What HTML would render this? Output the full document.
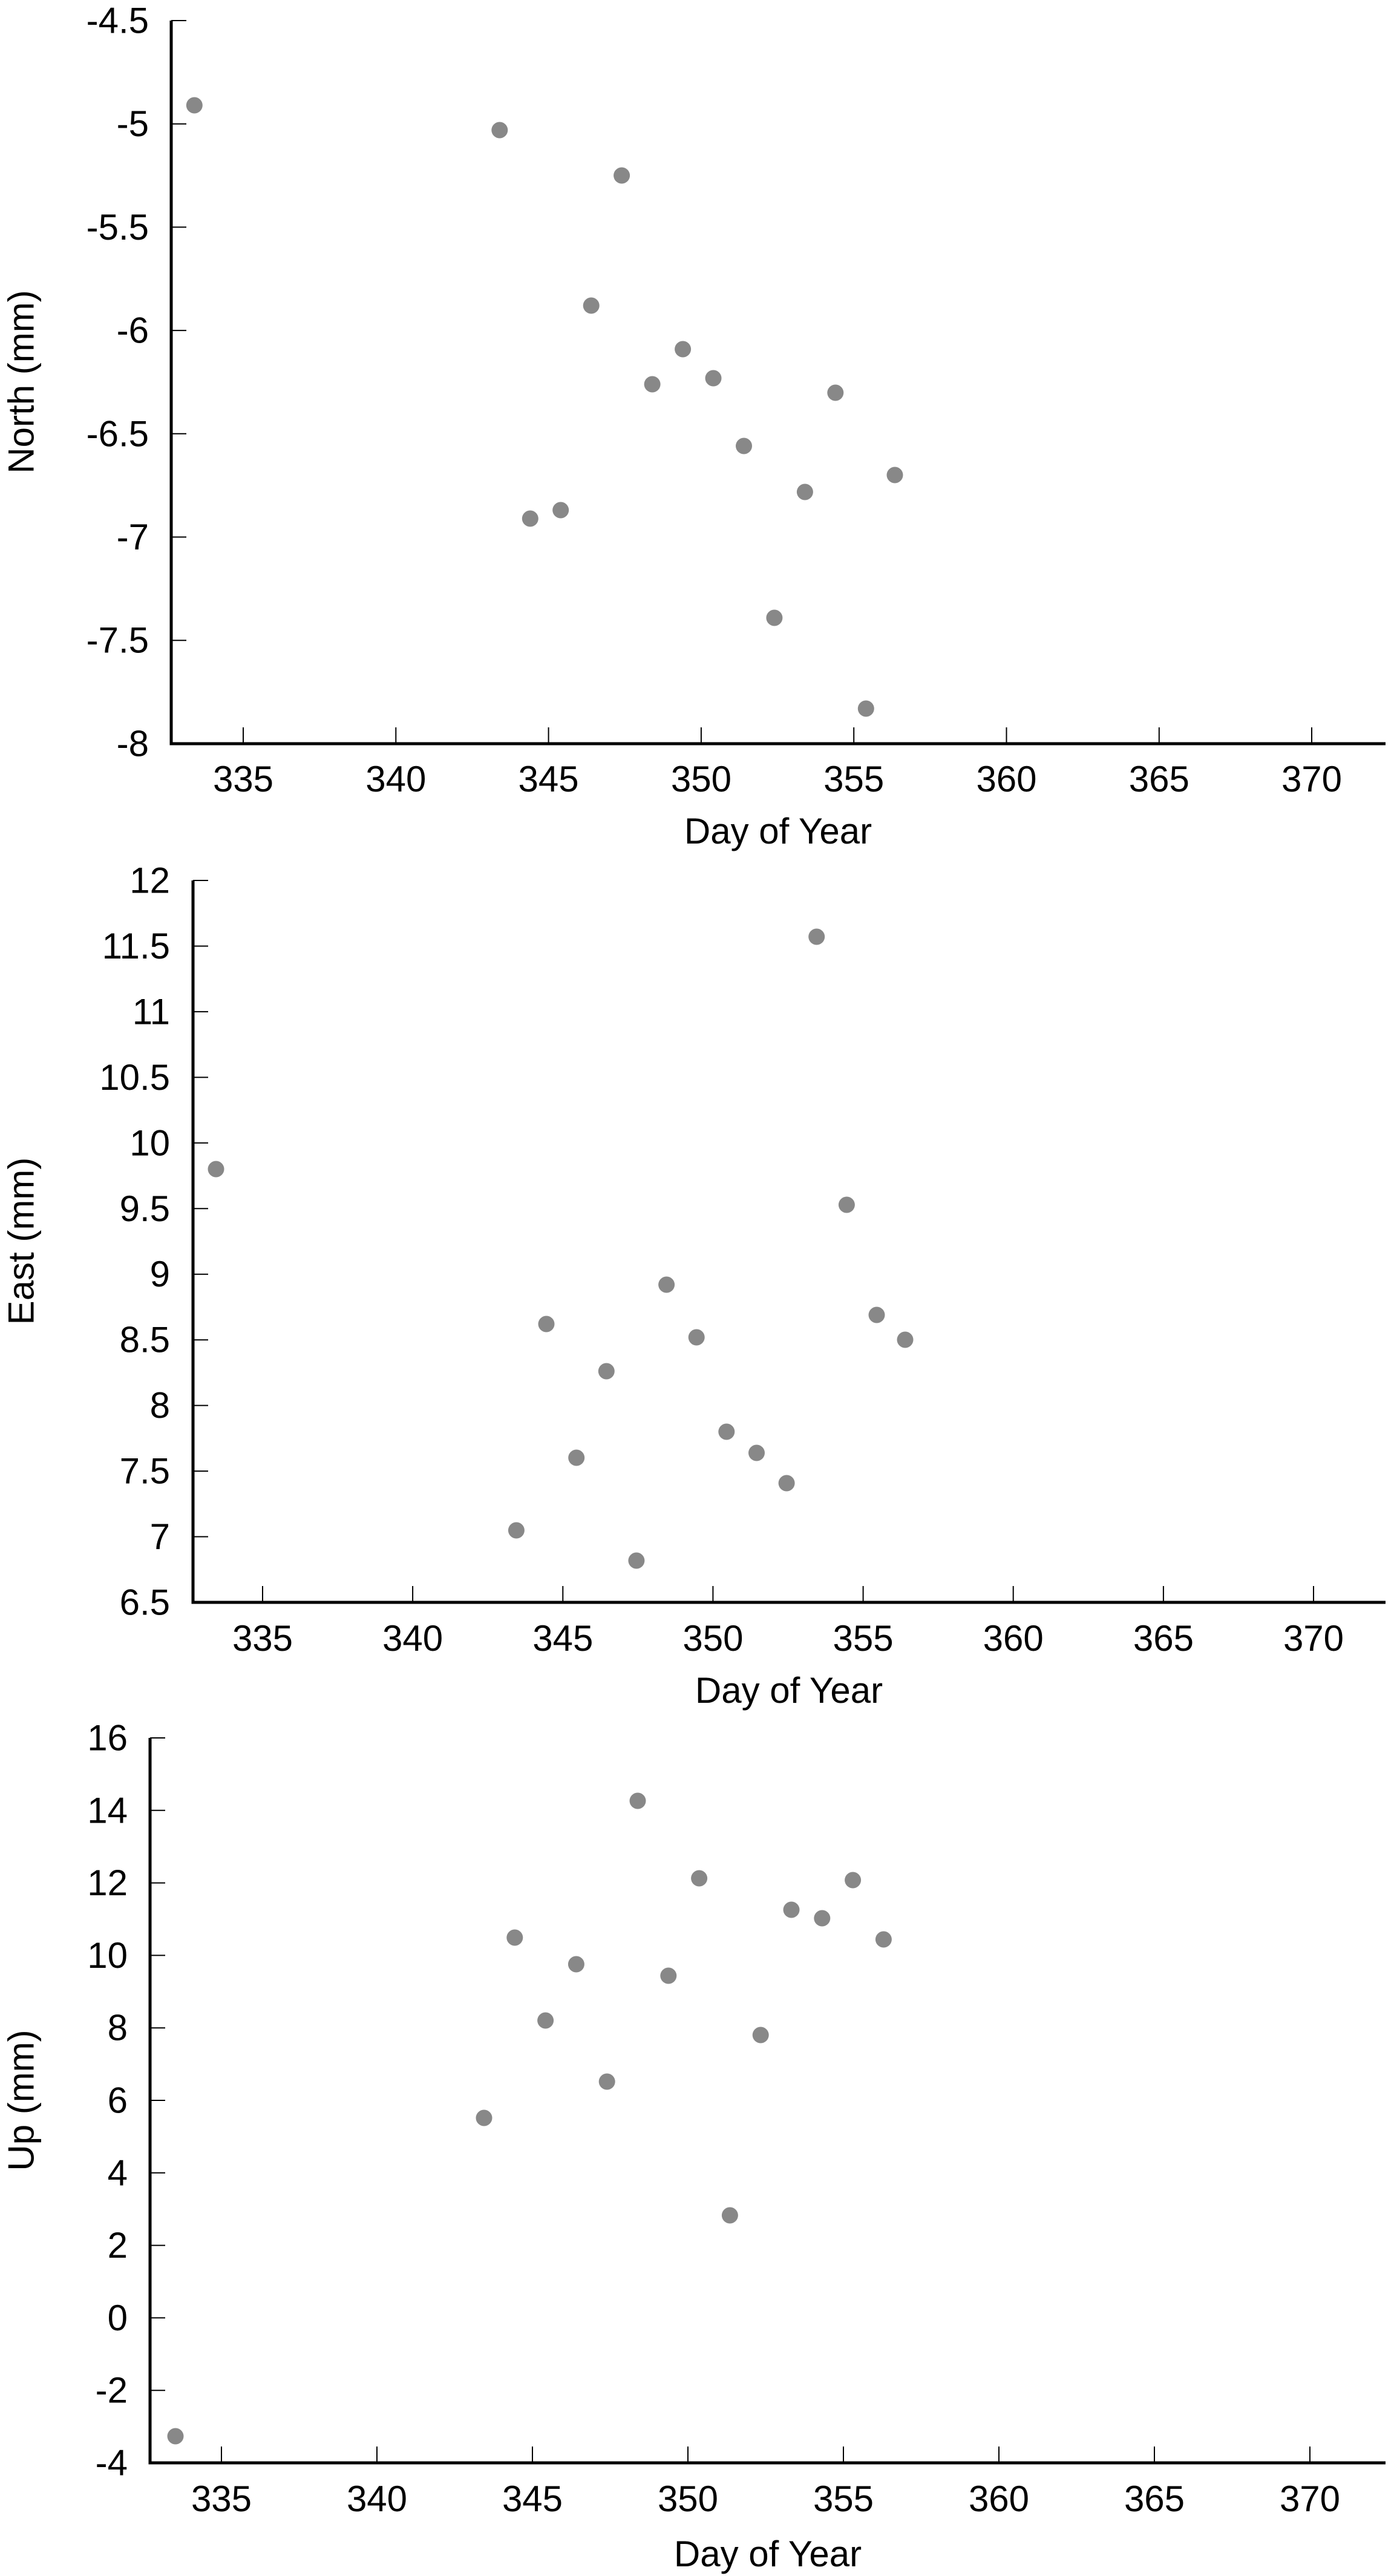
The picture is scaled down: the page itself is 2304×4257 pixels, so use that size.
<!DOCTYPE html>
<html><head><meta charset="utf-8"><style>
html,body{margin:0;padding:0;background:#fff;}
svg{display:block;}
text{font-family:"Liberation Sans",Arial,sans-serif;font-size:60px;fill:#000;}
.yt{text-anchor:end;dominant-baseline:central;}
.xt{text-anchor:middle;}
.ax{stroke:#000;stroke-width:5;fill:none;}
.tk{stroke:#000;stroke-width:2;}
circle{fill:#888;}
</style></head><body>
<svg width="2304" height="4257" viewBox="0 0 2304 4257" xmlns="http://www.w3.org/2000/svg">
<!-- Panel 1 -->
<path class="ax" d="M283,34 L283,1229 L2290,1229"/>
<g class="tk">
<line x1="283" y1="34" x2="308" y2="34"/><line x1="283" y1="204.7" x2="308" y2="204.7"/><line x1="283" y1="375.4" x2="308" y2="375.4"/><line x1="283" y1="546.1" x2="308" y2="546.1"/><line x1="283" y1="716.8" x2="308" y2="716.8"/><line x1="283" y1="887.5" x2="308" y2="887.5"/><line x1="283" y1="1058.2" x2="308" y2="1058.2"/>
<line x1="402" y1="1229" x2="402" y2="1202"/><line x1="654.3" y1="1229" x2="654.3" y2="1202"/><line x1="906.6" y1="1229" x2="906.6" y2="1202"/><line x1="1158.9" y1="1229" x2="1158.9" y2="1202"/><line x1="1411.2" y1="1229" x2="1411.2" y2="1202"/><line x1="1663.5" y1="1229" x2="1663.5" y2="1202"/><line x1="1915.8" y1="1229" x2="1915.8" y2="1202"/><line x1="2168" y1="1229" x2="2168" y2="1202"/>
</g>
<text class="yt" x="246" y="34">-4.5</text><text class="yt" x="246" y="204.7">-5</text><text class="yt" x="246" y="375.4">-5.5</text><text class="yt" x="246" y="546.1">-6</text><text class="yt" x="246" y="716.8">-6.5</text><text class="yt" x="246" y="887.5">-7</text><text class="yt" x="246" y="1058.2">-7.5</text><text class="yt" x="246" y="1229">-8</text>
<text class="xt" x="402" y="1308">335</text><text class="xt" x="654.3" y="1308">340</text><text class="xt" x="906.6" y="1308">345</text><text class="xt" x="1158.9" y="1308">350</text><text class="xt" x="1411.2" y="1308">355</text><text class="xt" x="1663.5" y="1308">360</text><text class="xt" x="1915.8" y="1308">365</text><text class="xt" x="2168" y="1308">370</text>
<text class="xt" x="1286" y="1394">Day of Year</text>
<text class="xt" transform="translate(35,631) rotate(-90)" dominant-baseline="central">North (mm)</text>
<circle cx="321.3" cy="174" r="13.5"/><circle cx="825.8" cy="215" r="13.5"/><circle cx="876.3" cy="857" r="13.5"/><circle cx="926.7" cy="843" r="13.5"/><circle cx="977.2" cy="505" r="13.5"/><circle cx="1027.6" cy="290" r="13.5"/><circle cx="1078.1" cy="635" r="13.5"/><circle cx="1128.6" cy="577" r="13.5"/><circle cx="1179" cy="625" r="13.5"/><circle cx="1229.5" cy="737" r="13.5"/><circle cx="1279.9" cy="1021" r="13.5"/><circle cx="1330.4" cy="813" r="13.5"/><circle cx="1380.8" cy="649" r="13.5"/><circle cx="1431.3" cy="1171" r="13.5"/><circle cx="1479" cy="785" r="13.5"/>

<!-- Panel 2 -->
<path class="ax" d="M319,1455 L319,2648 L2290,2648"/>
<g class="tk">
<line x1="319" y1="1455" x2="344" y2="1455"/><line x1="319" y1="1563.5" x2="344" y2="1563.5"/><line x1="319" y1="1671.9" x2="344" y2="1671.9"/><line x1="319" y1="1780.4" x2="344" y2="1780.4"/><line x1="319" y1="1888.8" x2="344" y2="1888.8"/><line x1="319" y1="1997.3" x2="344" y2="1997.3"/><line x1="319" y1="2105.7" x2="344" y2="2105.7"/><line x1="319" y1="2214.2" x2="344" y2="2214.2"/><line x1="319" y1="2322.6" x2="344" y2="2322.6"/><line x1="319" y1="2431.1" x2="344" y2="2431.1"/><line x1="319" y1="2539.5" x2="344" y2="2539.5"/>
<line x1="434" y1="2648" x2="434" y2="2621"/><line x1="682.1" y1="2648" x2="682.1" y2="2621"/><line x1="930.3" y1="2648" x2="930.3" y2="2621"/><line x1="1178.4" y1="2648" x2="1178.4" y2="2621"/><line x1="1426.6" y1="2648" x2="1426.6" y2="2621"/><line x1="1674.7" y1="2648" x2="1674.7" y2="2621"/><line x1="1922.9" y1="2648" x2="1922.9" y2="2621"/><line x1="2171" y1="2648" x2="2171" y2="2621"/>
</g>
<text class="yt" x="281" y="1455">12</text><text class="yt" x="281" y="1563.5">11.5</text><text class="yt" x="281" y="1671.9">11</text><text class="yt" x="281" y="1780.4">10.5</text><text class="yt" x="281" y="1888.8">10</text><text class="yt" x="281" y="1997.3">9.5</text><text class="yt" x="281" y="2105.7">9</text><text class="yt" x="281" y="2214.2">8.5</text><text class="yt" x="281" y="2322.6">8</text><text class="yt" x="281" y="2431.1">7.5</text><text class="yt" x="281" y="2539.5">7</text><text class="yt" x="281" y="2648">6.5</text>
<text class="xt" x="434" y="2728">335</text><text class="xt" x="682.1" y="2728">340</text><text class="xt" x="930.3" y="2728">345</text><text class="xt" x="1178.4" y="2728">350</text><text class="xt" x="1426.6" y="2728">355</text><text class="xt" x="1674.7" y="2728">360</text><text class="xt" x="1922.9" y="2728">365</text><text class="xt" x="2171" y="2728">370</text>
<text class="xt" x="1304" y="2814">Day of Year</text>
<text class="xt" transform="translate(35,2051) rotate(-90)" dominant-baseline="central">East (mm)</text>
<circle cx="357" cy="1932" r="13.5"/><circle cx="853.4" cy="2529" r="13.5"/><circle cx="903" cy="2188" r="13.5"/><circle cx="952.7" cy="2409" r="13.5"/><circle cx="1002.3" cy="2266" r="13.5"/><circle cx="1051.9" cy="2579" r="13.5"/><circle cx="1101.6" cy="2123" r="13.5"/><circle cx="1151.2" cy="2210" r="13.5"/><circle cx="1200.8" cy="2366" r="13.5"/><circle cx="1250.5" cy="2401" r="13.5"/><circle cx="1300.1" cy="2451" r="13.5"/><circle cx="1349.7" cy="1548" r="13.5"/><circle cx="1399.4" cy="1991" r="13.5"/><circle cx="1449" cy="2173" r="13.5"/><circle cx="1496" cy="2214" r="13.5"/>

<!-- Panel 3 -->
<path class="ax" d="M248,2872 L248,4070 L2290,4070"/>
<g class="tk">
<line x1="248" y1="2872" x2="273" y2="2872"/><line x1="248" y1="2991.8" x2="273" y2="2991.8"/><line x1="248" y1="3111.6" x2="273" y2="3111.6"/><line x1="248" y1="3231.4" x2="273" y2="3231.4"/><line x1="248" y1="3351.2" x2="273" y2="3351.2"/><line x1="248" y1="3471" x2="273" y2="3471"/><line x1="248" y1="3590.8" x2="273" y2="3590.8"/><line x1="248" y1="3710.6" x2="273" y2="3710.6"/><line x1="248" y1="3830.4" x2="273" y2="3830.4"/><line x1="248" y1="3950.2" x2="273" y2="3950.2"/>
<line x1="366" y1="4070" x2="366" y2="4043"/><line x1="623" y1="4070" x2="623" y2="4043"/><line x1="880" y1="4070" x2="880" y2="4043"/><line x1="1137" y1="4070" x2="1137" y2="4043"/><line x1="1394" y1="4070" x2="1394" y2="4043"/><line x1="1651" y1="4070" x2="1651" y2="4043"/><line x1="1908" y1="4070" x2="1908" y2="4043"/><line x1="2165" y1="4070" x2="2165" y2="4043"/>
</g>
<text class="yt" x="211" y="2872">16</text><text class="yt" x="211" y="2991.8">14</text><text class="yt" x="211" y="3111.6">12</text><text class="yt" x="211" y="3231.4">10</text><text class="yt" x="211" y="3351.2">8</text><text class="yt" x="211" y="3471">6</text><text class="yt" x="211" y="3590.8">4</text><text class="yt" x="211" y="3710.6">2</text><text class="yt" x="211" y="3830.4">0</text><text class="yt" x="211" y="3950.2">-2</text><text class="yt" x="211" y="4070">-4</text>
<text class="xt" x="366" y="4150">335</text><text class="xt" x="623" y="4150">340</text><text class="xt" x="880" y="4150">345</text><text class="xt" x="1137" y="4150">350</text><text class="xt" x="1394" y="4150">355</text><text class="xt" x="1651" y="4150">360</text><text class="xt" x="1908" y="4150">365</text><text class="xt" x="2165" y="4150">370</text>
<text class="xt" x="1269" y="4241">Day of Year</text>
<text class="xt" transform="translate(35,3471) rotate(-90)" dominant-baseline="central">Up (mm)</text>
<circle cx="290" cy="4026" r="13.5"/><circle cx="800" cy="3500" r="13.5"/><circle cx="850.8" cy="3202" r="13.5"/><circle cx="901.6" cy="3339" r="13.5"/><circle cx="952.4" cy="3246" r="13.5"/><circle cx="1003.2" cy="3440" r="13.5"/><circle cx="1054" cy="2976" r="13.5"/><circle cx="1104.8" cy="3265" r="13.5"/><circle cx="1155.6" cy="3104" r="13.5"/><circle cx="1206.4" cy="3661" r="13.5"/><circle cx="1257.2" cy="3363" r="13.5"/><circle cx="1308" cy="3156" r="13.5"/><circle cx="1358.8" cy="3170" r="13.5"/><circle cx="1409.6" cy="3107" r="13.5"/><circle cx="1460.4" cy="3205" r="13.5"/>
</svg>
</body></html>
